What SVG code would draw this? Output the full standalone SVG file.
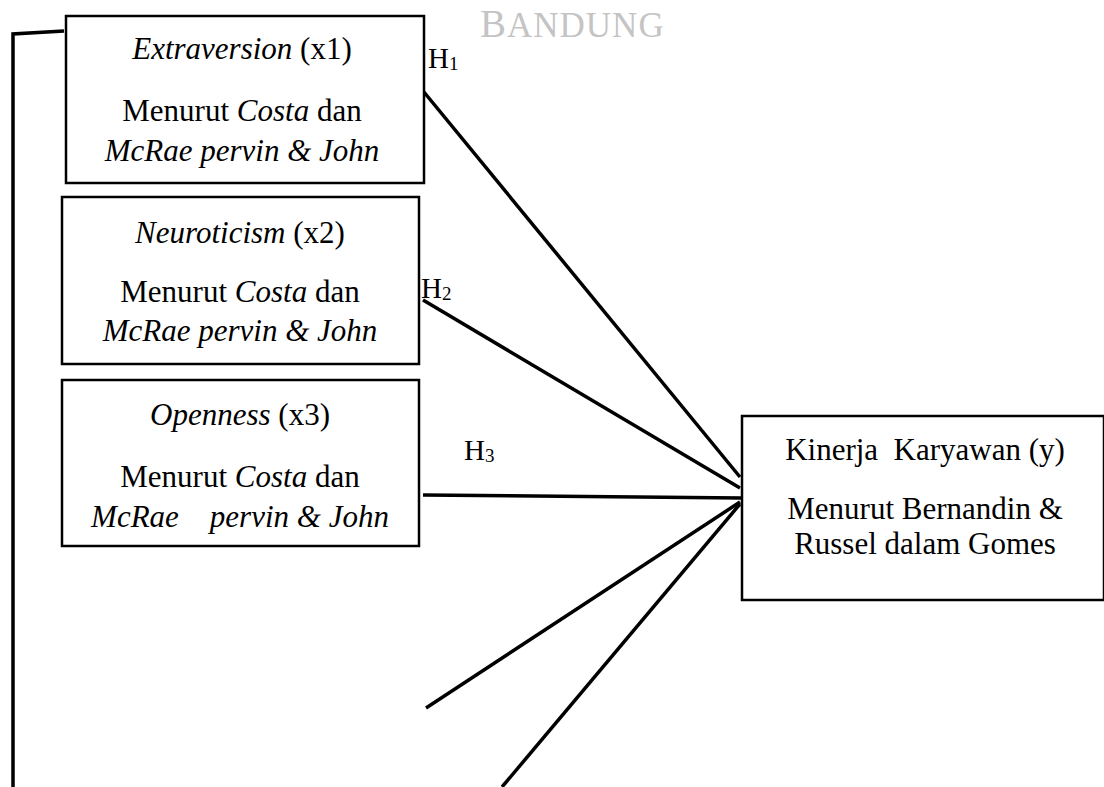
<svg xmlns="http://www.w3.org/2000/svg" width="1104" height="787" viewBox="0 0 1104 787">
<style>
.box{fill:#fff;stroke:#000;stroke-width:2.5}
.t{font-family:"Liberation Serif","Times New Roman",serif;font-size:31px;fill:#000;text-anchor:middle}
.i{font-style:italic}
.h{font-family:"Liberation Serif","Times New Roman",serif;font-size:29px;fill:#000}
.sub{font-size:19px}
.c{stroke:#000;stroke-width:3.5;fill:none;stroke-linecap:butt}
.wm{font-family:"Liberation Serif","DejaVu Serif",serif;font-size:35px;fill:#c4c4c4;letter-spacing:1px}
</style>
<rect width="1104" height="787" fill="#fff"/>
<text class="wm" x="480" y="37"><tspan font-size="39">B</tspan>ANDUNG</text>
<g id="connectors">
<polyline class="c" points="64,31 13,34 13,787"/>
<line class="c" x1="419" y1="86" x2="740" y2="477"/>
<line class="c" x1="423" y1="300" x2="740" y2="488"/>
<line class="c" x1="423" y1="495" x2="742" y2="498"/>
<line class="c" x1="426" y1="708" x2="740" y2="502"/>
<line class="c" x1="502" y1="787" x2="740" y2="504"/>
</g>
<g id="node-x1">
<rect class="box" x="66" y="16" width="358" height="167"/>
<text class="t" x="242" y="59"><tspan class="i">Extraversion</tspan> (x1)</text>
<text class="t" x="242" y="121">Menurut <tspan class="i">Costa</tspan> dan</text>
<text class="t i" x="242" y="161">McRae pervin &amp; John</text>
</g>
<g id="node-x2">
<rect class="box" x="62" y="197" width="357" height="167"/>
<text class="t" x="240" y="243"><tspan class="i">Neuroticism</tspan> (x2)</text>
<text class="t" x="240" y="302">Menurut <tspan class="i">Costa</tspan> dan</text>
<text class="t i" x="240" y="341">McRae pervin &amp; John</text>
</g>
<g id="node-x3">
<rect class="box" x="62" y="380" width="357" height="166"/>
<text class="t" x="240" y="425"><tspan class="i">Openness</tspan> (x3)</text>
<text class="t" x="240" y="487">Menurut <tspan class="i">Costa</tspan> dan</text>
<text class="t i" x="240" y="527" xml:space="preserve">McRae    pervin &amp; John</text>
</g>
<g id="node-y">
<rect class="box" x="742" y="416" width="362" height="184"/>
<text class="t" x="925" y="460" xml:space="preserve">Kinerja  Karyawan (y)</text>
<text class="t" x="925" y="519">Menurut Bernandin &amp;</text>
<text class="t" x="925" y="554">Russel dalam Gomes</text>
</g>
<g id="labels">
<text class="h" x="428" y="68">H<tspan class="sub" dy="2">1</tspan></text>
<text class="h" x="421" y="298">H<tspan class="sub" dy="2">2</tspan></text>
<text class="h" x="464" y="460">H<tspan class="sub" dy="2">3</tspan></text>
</g>
</svg>
